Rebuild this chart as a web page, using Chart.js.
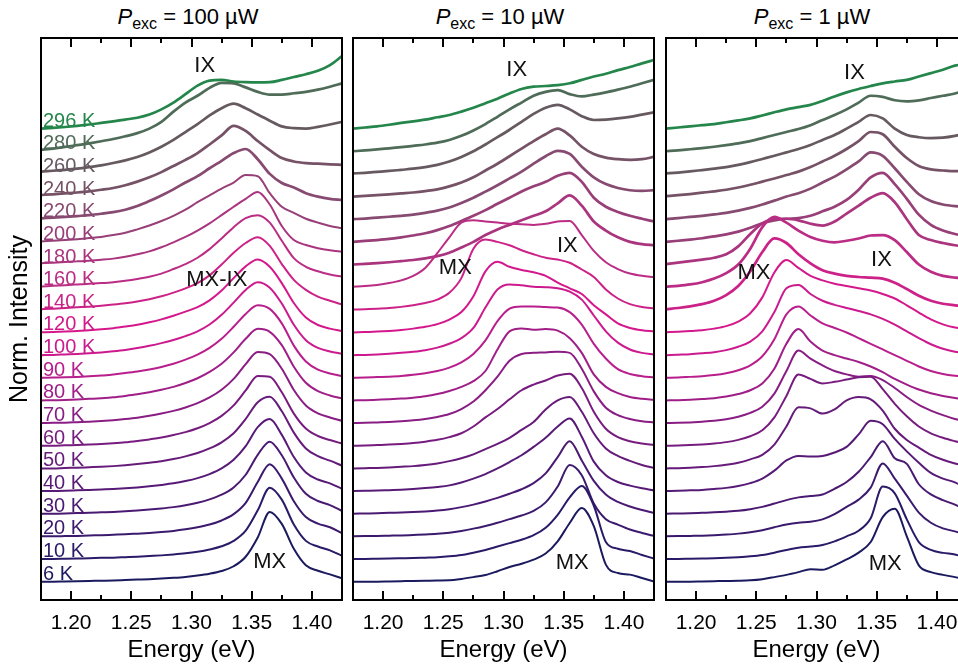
<!DOCTYPE html>
<html>
<head>
<meta charset="utf-8">
<script src="https://cdn.jsdelivr.net/npm/chart.js@4.4.0/dist/chart.umd.min.js"></script>
<style>
  body { margin: 0; width: 958px; height: 668px; overflow: hidden; background: #fff; position: relative;
         font-family: "Liberation Sans", Arial, sans-serif; }
  .panel { position: absolute; top: 0; }
  .ttl { position: absolute; top: 4px; width: 240px; text-align: center; font-size: 22px; line-height: 26px; color: #000; }
  .ttl sub { font-size: 16px; vertical-align: -5px; line-height: 0; }
</style>
</head>
<body>
<div class="ttl" style="left:68px"><i>P</i><sub>exc</sub> = 100 µW</div>
<div class="ttl" style="left:380px"><i>P</i><sub>exc</sub> = 10 µW</div>
<div class="ttl" style="left:692px"><i>P</i><sub>exc</sub> = 1 µW</div>
<canvas class="panel" id="p100" width="349" height="668" style="left:0"></canvas>
<canvas class="panel" id="p10" width="314" height="668" style="left:347px"></canvas>
<canvas class="panel" id="p1" width="314" height="668" style="left:660px"></canvas>
<script>
// photon energy grid (eV), shared by every spectrum
var energy = [1.175, 1.185, 1.195, 1.205, 1.215, 1.225, 1.235, 1.245, 1.255, 1.265, 1.275, 1.285, 1.295,
              1.305, 1.315, 1.325, 1.335, 1.345, 1.355, 1.365, 1.375, 1.385, 1.395, 1.405, 1.415, 1.425];
var temps = ['6 K', '10 K', '20 K', '30 K', '40 K', '50 K', '60 K', '70 K', '80 K', '90 K', '100 K',
             '120 K', '140 K', '160 K', '180 K', '200 K', '220 K', '240 K', '260 K', '280 K', '296 K'];
var majorTicks = [1.20, 1.25, 1.30, 1.35, 1.40];
var minorTicks = [1.225, 1.275, 1.325, 1.375];

// normalized PL, one row per temperature (6 K first), P = 100 uW
var spec100 = [
  [0,0,0.01,0.02,0.03,0.04,0.05,0.07,0.09,0.11,0.14,0.17,0.21,0.27,0.35,0.47,0.68,1.10,1.95,3.08,2.55,1.45,0.72,0.48,0.32,0.15],
  [0,0,0.01,0.02,0.03,0.05,0.06,0.08,0.10,0.13,0.16,0.20,0.25,0.32,0.42,0.56,0.80,1.25,2.15,3.15,2.62,1.52,0.80,0.55,0.38,0.14],
  [0,0,0.01,0.02,0.04,0.05,0.07,0.09,0.12,0.15,0.19,0.24,0.31,0.40,0.52,0.70,0.98,1.48,2.40,3.18,2.55,1.55,0.85,0.56,0.40,0.14],
  [0,0,0.01,0.03,0.04,0.06,0.08,0.11,0.14,0.18,0.23,0.29,0.37,0.48,0.63,0.84,1.16,1.72,2.60,3.18,2.58,1.60,0.88,0.56,0.38,0.12],
  [0,0,0.01,0.03,0.05,0.07,0.09,0.12,0.16,0.21,0.27,0.34,0.44,0.57,0.75,1.00,1.38,1.98,2.82,3.18,2.48,1.50,0.82,0.51,0.34,0.10],
  [0,0,0.02,0.03,0.05,0.07,0.10,0.14,0.19,0.25,0.32,0.41,0.53,0.68,0.88,1.15,1.55,2.18,2.92,3.16,2.52,1.58,0.88,0.54,0.34,0.12],
  [0,0,0.02,0.03,0.05,0.08,0.11,0.15,0.21,0.28,0.36,0.47,0.60,0.77,1.00,1.32,1.78,2.44,3.08,3.05,2.36,1.42,0.76,0.43,0.25,0.10],
  [0,0.01,0.02,0.04,0.06,0.09,0.13,0.18,0.24,0.32,0.42,0.54,0.69,0.88,1.13,1.47,1.95,2.60,3.14,3.04,2.40,1.46,0.78,0.43,0.25,0.10],
  [0,0.01,0.02,0.04,0.07,0.10,0.14,0.20,0.27,0.36,0.47,0.60,0.77,0.98,1.26,1.62,2.12,2.72,3.16,3.03,2.44,1.49,0.78,0.41,0.22,0.09],
  [0,0.01,0.02,0.04,0.07,0.10,0.15,0.21,0.28,0.37,0.48,0.62,0.80,1.02,1.32,1.72,2.25,2.82,3.20,3.04,2.40,1.42,0.72,0.36,0.19,0.07],
  [0,0.01,0.03,0.05,0.08,0.12,0.17,0.23,0.31,0.41,0.53,0.67,0.84,1.05,1.35,1.78,2.32,2.88,3.22,2.98,2.28,1.34,0.66,0.32,0.16,0.06],
  [0.01,0.02,0.04,0.07,0.10,0.14,0.19,0.26,0.34,0.45,0.58,0.74,0.92,1.12,1.42,1.85,2.40,2.92,3.22,2.90,2.18,1.30,0.66,0.33,0.17,0.07],
  [0.03,0.05,0.08,0.11,0.14,0.18,0.23,0.29,0.37,0.47,0.60,0.76,0.95,1.18,1.52,2.00,2.52,2.95,3.20,2.82,2.02,1.32,0.88,0.58,0.40,0.24],
  [0.03,0.06,0.09,0.12,0.15,0.18,0.22,0.28,0.36,0.46,0.60,0.80,1.02,1.30,1.68,2.15,2.65,3.05,3.18,2.85,2.05,1.28,0.90,0.70,0.56,0.47],
  [0.06,0.08,0.11,0.14,0.17,0.21,0.26,0.34,0.45,0.58,0.76,0.98,1.22,1.50,1.82,2.18,2.55,2.90,3.20,2.65,1.70,1.08,0.86,0.72,0.63,0.57],
  [0.02,0.05,0.08,0.12,0.17,0.22,0.30,0.40,0.55,0.72,0.92,1.15,1.42,1.75,2.05,2.35,2.62,2.95,2.90,2.15,1.55,1.28,1.02,0.85,0.70,0.60],
  [0.04,0.07,0.10,0.14,0.18,0.24,0.31,0.42,0.58,0.80,1.05,1.32,1.62,1.90,2.25,2.58,2.92,3.10,2.65,2.00,1.60,1.40,1.15,1.00,0.90,0.85],
  [0.07,0.10,0.14,0.18,0.23,0.30,0.38,0.50,0.66,0.85,1.08,1.35,1.62,1.92,2.30,2.70,3.12,2.90,2.45,2.05,1.70,1.55,1.48,1.45,1.42,1.40],
  [0.10,0.14,0.18,0.23,0.30,0.38,0.48,0.60,0.75,0.95,1.20,1.50,1.85,2.20,2.58,2.90,3.10,2.90,2.62,2.35,2.10,2.02,2.00,2.08,2.18,2.30],
  [0.06,0.12,0.19,0.27,0.35,0.44,0.54,0.66,0.80,1.00,1.30,1.75,2.15,2.45,2.80,3.02,3.00,2.82,2.62,2.50,2.50,2.56,2.62,2.72,2.85,3.00],
  [0.00,0.03,0.07,0.12,0.18,0.25,0.32,0.40,0.48,0.62,0.85,1.15,1.52,1.90,2.12,2.15,2.08,2.05,2.04,2.05,2.15,2.28,2.40,2.55,2.80,3.20]
];

// P = 10 uW
var spec10 = [
  [0,0,0,0.01,0.02,0.03,0.04,0.05,0.06,0.12,0.20,0.29,0.46,0.65,0.79,0.97,1.24,1.78,2.59,3.25,2.45,0.75,0.38,0.31,0.16,0.01],
  [0,0,0.01,0.02,0.03,0.04,0.06,0.08,0.12,0.18,0.28,0.40,0.55,0.70,0.85,1.05,1.38,1.95,2.72,3.22,2.35,0.75,0.45,0.35,0.18,0.02],
  [0,0.01,0.02,0.03,0.04,0.06,0.08,0.11,0.16,0.24,0.34,0.46,0.60,0.76,0.92,1.12,1.50,2.20,3.15,2.70,1.45,0.76,0.52,0.30,0.15,0.02],
  [0,0.01,0.02,0.04,0.05,0.07,0.10,0.14,0.20,0.29,0.40,0.54,0.70,0.88,1.08,1.35,1.78,2.50,3.20,2.35,1.45,0.85,0.52,0.32,0.16,0.03],
  [0,0.01,0.02,0.04,0.06,0.09,0.13,0.18,0.25,0.38,0.55,0.75,1.00,1.28,1.58,1.95,2.35,2.85,3.20,2.40,1.30,0.70,0.40,0.24,0.12,0.03],
  [0,0.01,0.02,0.04,0.07,0.10,0.15,0.22,0.32,0.45,0.62,0.85,1.08,1.35,1.70,2.05,2.60,3.00,3.15,2.50,1.55,0.88,0.55,0.33,0.15,0.02],
  [0,0.01,0.03,0.05,0.08,0.12,0.18,0.26,0.38,0.55,0.85,1.25,1.62,2.05,2.45,2.70,2.88,3.10,3.18,2.55,1.50,0.75,0.38,0.20,0.10,0.03],
  [0,0.01,0.03,0.05,0.08,0.12,0.18,0.27,0.40,0.62,0.95,1.45,2.05,2.75,3.05,3.10,3.12,3.15,3.10,2.40,1.40,0.68,0.35,0.18,0.08,0.03],
  [0,0.01,0.03,0.05,0.08,0.12,0.18,0.28,0.42,0.60,0.85,1.30,2.25,3.05,3.18,3.12,3.15,3.08,2.75,2.10,1.15,0.60,0.32,0.15,0.07,0.03],
  [0,0.01,0.03,0.05,0.08,0.13,0.20,0.30,0.45,0.68,1.05,1.65,2.50,3.05,3.15,3.15,3.12,3.10,2.90,2.35,1.50,0.85,0.38,0.17,0.07,0.02],
  [0,0.01,0.03,0.06,0.10,0.15,0.22,0.33,0.50,0.75,1.20,2.10,2.90,3.12,3.08,3.02,3.00,2.95,2.80,2.45,1.75,1.05,0.55,0.25,0.10,0.03],
  [0,0.02,0.04,0.07,0.11,0.17,0.25,0.37,0.57,0.90,1.60,2.70,3.12,2.90,2.76,2.66,2.50,2.20,1.95,1.70,1.20,0.80,0.40,0.20,0.10,0.05],
  [0.01,0.03,0.05,0.08,0.13,0.20,0.30,0.45,0.75,1.40,2.70,3.10,3.00,2.85,2.63,2.45,2.30,2.22,2.08,1.78,1.45,0.90,0.50,0.25,0.12,0.07],
  [0.02,0.05,0.10,0.18,0.30,0.50,0.85,1.50,2.20,2.85,2.95,2.90,2.85,2.80,2.78,2.75,2.80,2.90,2.92,2.30,1.60,1.10,0.80,0.60,0.50,0.45],
  [0,0.03,0.06,0.10,0.15,0.20,0.27,0.37,0.52,0.75,1.00,1.30,1.55,1.75,1.95,2.15,2.35,2.70,3.05,2.60,1.90,1.50,1.20,1.00,0.90,0.85],
  [0,0.04,0.08,0.13,0.20,0.28,0.38,0.52,0.70,0.92,1.15,1.40,1.68,1.95,2.22,2.45,2.65,2.92,3.05,2.65,1.95,1.55,1.32,1.15,1.02,0.90],
  [0,0.03,0.07,0.11,0.15,0.20,0.28,0.38,0.52,0.72,0.95,1.22,1.50,1.80,2.10,2.45,2.78,3.02,2.88,2.32,1.85,1.55,1.38,1.28,1.25,1.28],
  [0,0.03,0.06,0.10,0.14,0.18,0.24,0.32,0.45,0.62,0.85,1.15,1.45,1.78,2.12,2.45,2.75,3.00,2.70,2.20,1.88,1.72,1.65,1.62,1.65,1.75],
  [0.02,0.05,0.09,0.13,0.18,0.23,0.30,0.40,0.55,0.75,1.00,1.30,1.62,1.95,2.30,2.65,2.92,3.05,2.85,2.55,2.38,2.40,2.45,2.52,2.62,2.72],
  [0,0.04,0.08,0.13,0.18,0.24,0.30,0.38,0.50,0.68,0.92,1.20,1.52,1.85,2.15,2.45,2.62,2.70,2.52,2.42,2.50,2.60,2.72,2.85,3.00,3.15],
  [0,0.05,0.10,0.17,0.25,0.32,0.40,0.50,0.60,0.75,0.92,1.12,1.32,1.55,1.75,1.85,1.88,1.92,2.00,2.15,2.30,2.42,2.58,2.72,2.88,3.03]
];

// P = 1 uW
var spec1 = [
  [0,0,0,0.01,0.02,0.03,0.04,0.06,0.11,0.20,0.30,0.42,0.55,0.52,0.72,0.98,1.28,1.75,2.85,3.22,2.00,0.72,0.42,0.30,0.20,0.09],
  [0,0,0.01,0.02,0.03,0.05,0.08,0.12,0.18,0.28,0.40,0.50,0.55,0.62,0.78,1.00,1.25,1.80,3.20,2.90,1.75,0.75,0.40,0.27,0.20,0.04],
  [0,0.01,0.02,0.03,0.05,0.08,0.12,0.18,0.27,0.40,0.52,0.60,0.64,0.75,0.98,1.30,1.62,2.15,3.22,2.55,1.80,1.05,0.60,0.35,0.22,0.03],
  [0,0.01,0.02,0.04,0.06,0.09,0.13,0.20,0.30,0.45,0.60,0.72,0.78,0.85,1.10,1.40,1.85,2.50,3.20,2.45,2.20,1.30,0.85,0.60,0.40,0.15],
  [0,0.01,0.03,0.05,0.09,0.14,0.22,0.35,0.55,0.90,1.35,1.55,1.52,1.55,1.70,1.95,2.50,3.10,2.95,2.30,1.75,1.25,0.80,0.55,0.38,0.10],
  [0,0.01,0.03,0.06,0.10,0.16,0.25,0.40,0.60,1.05,1.85,2.70,2.65,2.42,2.60,3.00,3.15,3.05,2.55,1.75,1.25,0.92,0.60,0.38,0.22,0.12],
  [0,0.01,0.03,0.06,0.10,0.16,0.26,0.42,0.68,1.25,2.20,3.15,2.95,2.75,2.82,2.92,3.02,3.05,2.50,1.85,1.30,0.85,0.55,0.35,0.20,0.07],
  [0,0.01,0.03,0.06,0.10,0.17,0.28,0.45,0.72,1.30,2.30,3.20,2.85,2.55,2.30,2.15,2.05,2.08,1.90,1.55,1.15,0.80,0.55,0.35,0.18,0.06],
  [0,0.01,0.03,0.06,0.10,0.17,0.28,0.45,0.75,1.40,2.50,3.15,2.60,2.20,2.00,1.85,1.70,1.50,1.25,0.95,0.70,0.48,0.32,0.20,0.11,0.05],
  [0,0.01,0.04,0.07,0.12,0.20,0.33,0.55,0.95,1.70,2.80,3.15,2.75,2.40,2.20,2.00,1.75,1.50,1.25,1.00,0.75,0.50,0.30,0.17,0.09,0.04],
  [0,0.02,0.04,0.08,0.13,0.22,0.37,0.60,1.05,1.90,2.95,3.10,2.70,2.40,2.22,2.08,1.95,1.80,1.60,1.35,1.05,0.75,0.48,0.28,0.15,0.07],
  [0.01,0.03,0.06,0.10,0.17,0.28,0.48,0.85,1.55,2.65,3.20,2.85,2.50,2.30,2.15,2.05,1.95,1.85,1.70,1.50,1.20,0.88,0.58,0.36,0.22,0.14],
  [0.03,0.08,0.15,0.25,0.40,0.65,1.05,1.70,2.55,3.15,2.95,2.45,2.05,1.75,1.60,1.50,1.45,1.42,1.38,1.20,0.92,0.62,0.40,0.27,0.20,0.14],
  [0.02,0.06,0.12,0.22,0.38,0.62,1.00,1.70,2.65,3.10,2.85,2.50,2.22,2.05,1.98,2.05,2.15,2.28,2.30,2.08,1.55,1.00,0.68,0.50,0.42,0.38],
  [0.02,0.08,0.15,0.22,0.30,0.45,0.80,1.35,1.82,2.02,2.02,1.95,1.80,1.72,1.90,2.25,2.60,2.95,3.15,2.75,2.00,1.30,1.08,0.95,0.85,0.80],
  [0,0.05,0.10,0.16,0.24,0.33,0.45,0.62,0.82,0.95,1.02,1.05,1.15,1.35,1.55,1.85,2.30,2.85,3.05,2.55,1.90,1.20,0.75,0.50,0.35,0.25],
  [0,0.05,0.10,0.15,0.21,0.28,0.38,0.50,0.65,0.82,1.00,1.15,1.35,1.62,1.88,2.20,2.55,2.95,2.80,2.25,1.65,1.10,0.80,0.65,0.58,0.55],
  [0.02,0.06,0.11,0.17,0.23,0.30,0.40,0.52,0.66,0.80,0.95,1.10,1.30,1.55,1.80,2.10,2.45,2.85,2.75,2.20,1.70,1.35,1.20,1.15,1.12,1.15],
  [0.02,0.06,0.11,0.17,0.23,0.30,0.40,0.52,0.66,0.80,0.95,1.10,1.28,1.50,1.72,2.00,2.30,2.60,2.45,2.00,1.72,1.62,1.58,1.60,1.68,1.80],
  [0,0.04,0.09,0.14,0.20,0.27,0.35,0.45,0.58,0.72,0.85,0.98,1.15,1.38,1.60,1.85,2.15,2.45,2.40,2.25,2.20,2.25,2.35,2.45,2.55,2.70],
  [0,0.05,0.10,0.15,0.20,0.28,0.36,0.45,0.58,0.72,0.85,0.95,1.05,1.22,1.42,1.60,1.75,1.88,2.00,2.08,2.15,2.30,2.45,2.60,2.78,2.85]
];

// peak labels: [text, energy, level in offset units]
var notes100 = [['IX', 1.311, 22.77], ['MX-IX', 1.321, 13.32], ['MX', 1.365, 0.87]];
var notes10 = [['IX', 1.311, 22.6], ['MX', 1.260, 13.85], ['IX', 1.353, 14.82], ['MX', 1.357, 0.83]];
var notes1 = [['IX', 1.3315, 22.44], ['MX', 1.248, 13.65], ['IX', 1.354, 14.2], ['MX', 1.357, 0.8]];

var traceColors = ['#1c1a5e', '#2a1a68', '#3b1a6e', '#4a1a72', '#571a76', '#661b7a', '#771c7e', '#8a1d84',
                   '#a01e88', '#b81e8c', '#cc1a8e', '#d4188c', '#cc2288', '#bb2c84', '#aa347e', '#983f78',
                   '#874a70', '#765266', '#665a60', '#4f6c58', '#24864a'];
var FONT = '"Liberation Sans", Arial, sans-serif';

// frame, inward ticks, peak labels and temperature labels
var decor = {
  id: 'decor',
  afterDatasetsDraw: function(chart, args, opts) {
    var ctx = chart.ctx, a = chart.chartArea, x = chart.scales.x, y = chart.scales.y;
    ctx.save();
    ctx.strokeStyle = '#000';
    ctx.lineWidth = 2;
    ctx.strokeRect(a.left, a.top, a.right - a.left, a.bottom - a.top);
    function tick(v, len) {
      var px = Math.round(x.getPixelForValue(v));
      ctx.beginPath();
      ctx.moveTo(px, a.top); ctx.lineTo(px, a.top + len);
      ctx.moveTo(px, a.bottom); ctx.lineTo(px, a.bottom - len);
      ctx.stroke();
    }
    majorTicks.forEach(function(v) { tick(v, 9); });
    minorTicks.forEach(function(v) { tick(v, 5); });

    ctx.fillStyle = '#111';
    ctx.font = '22px ' + FONT;
    ctx.textAlign = 'center';
    ctx.textBaseline = 'middle';
    opts.notes.forEach(function(n) {
      ctx.fillText(n[0], x.getPixelForValue(n[1]), y.getPixelForValue(n[2]));
    });

    if (opts.showTemps) {
      ctx.font = '20px ' + FONT;
      ctx.textAlign = 'left';
      ctx.textBaseline = 'alphabetic';
      temps.forEach(function(t, i) {
        ctx.fillStyle = traceColors[i];
        ctx.fillText(t, a.left + 2, y.getPixelForValue(i) - 2);
      });
    }
    ctx.restore();
  }
};

// the weaker (noisier) high-temperature spectra read as slightly heavier strokes
function buildDatasets(rows, noisyFrom) {
  return rows.map(function(row, i) {
    return {
      label: temps[i],
      data: row.map(function(h, k) { return { x: energy[k], y: i + h }; }),
      borderColor: traceColors[i],
      borderWidth: i >= noisyFrom ? 2.7 : 2,
      pointRadius: 0,
      cubicInterpolationMode: 'monotone',
      fill: false
    };
  });
}

function makePanel(id, rows, notes, first, noisyFrom) {
  new Chart(document.getElementById(id), {
    type: 'line',
    data: { datasets: buildDatasets(rows, noisyFrom) },
    plugins: [decor],
    options: {
      responsive: false,
      animation: false,
      devicePixelRatio: 1,
      layout: { padding: { left: first ? 0 : 6, right: 7, top: 38, bottom: 0 } },
      plugins: {
        legend: { display: false },
        tooltip: { enabled: false },
        decor: { notes: notes, showTemps: first }
      },
      scales: {
        x: {
          type: 'linear', min: 1.175, max: 1.425,
          afterBuildTicks: function(s) { s.ticks = majorTicks.map(function(v) { return { value: v }; }); },
          afterFit: function(s) { s.height = 68; },
          grid: { display: false, drawTicks: false },
          border: { display: false },
          ticks: {
            autoSkip: false, maxRotation: 0, padding: 11, color: '#000',
            font: { size: 21, family: FONT },
            callback: function(v) { return Number(v).toFixed(2); }
          },
          title: {
            display: true, text: 'Energy (eV)', color: '#000',
            font: { size: 24, family: FONT }, padding: { top: 0, bottom: 3 }
          }
        },
        y: {
          min: -0.81, max: 24,
          display: first,
          afterFit: function(s) { s.width = first ? 41 : 0; },
          grid: { display: false, drawTicks: false },
          border: { display: false },
          ticks: { display: false },
          title: {
            display: true, text: 'Norm. Intensity', color: '#000',
            font: { size: 25, family: FONT }, padding: { top: 5, bottom: 0 }
          }
        }
      }
    }
  });
}

makePanel('p100', spec100, notes100, true, 16);
makePanel('p10', spec10, notes10, false, 14);
makePanel('p1', spec1, notes1, false, 12);
</script>
</body>
</html>
